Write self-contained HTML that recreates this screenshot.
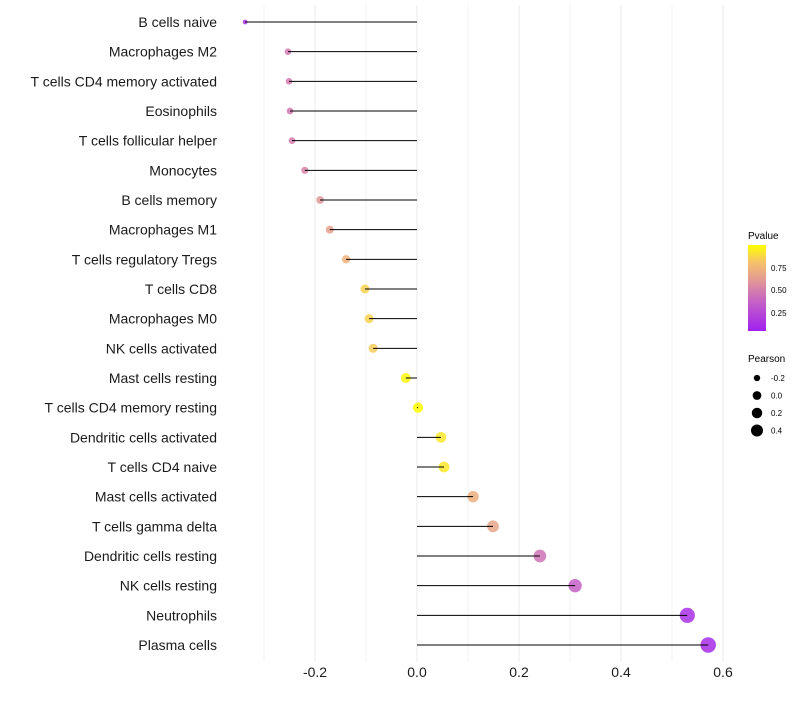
<!DOCTYPE html>
<html><head><meta charset="utf-8"><style>
body{margin:0;background:#fff;}
svg text{font-family:"Liberation Sans",sans-serif;}
</style></head><body>
<svg id="chart" width="800" height="700" xmlns="http://www.w3.org/2000/svg">
<rect width="800" height="700" fill="#fff"/>
<g id="grid"></g><g id="points"></g><g id="stems"></g><g id="ylabels"></g><g id="xticks"></g>
<g id="legend">
<defs><linearGradient id="pg" x1="0" y1="1" x2="0" y2="0">
<stop offset="0" stop-color="#A020F0"/><stop offset="0.35" stop-color="#C663C4"/><stop offset="0.6" stop-color="#E39A93"/><stop offset="0.8" stop-color="#F6C26A"/><stop offset="1" stop-color="#FFFF00"/></linearGradient></defs>
<text x="748" y="239" font-size="10">Pvalue</text>
<rect x="748" y="245" width="18" height="86" fill="url(#pg)"/>
<g font-size="8">
<text x="771" y="271">0.75</text><text x="771" y="293">0.50</text><text x="771" y="316">0.25</text>
</g>
<text x="748" y="362" font-size="10">Pearson</text>
<g id="sizeLegend"></g>
</g>
</svg>
<script>
const cells=["B cells naive","Macrophages M2","T cells CD4 memory activated","Eosinophils","T cells follicular helper","Monocytes","B cells memory","Macrophages M1","T cells regulatory  Tregs ","T cells CD8","Macrophages M0","NK cells activated","Mast cells resting","T cells CD4 memory resting","Dendritic cells activated","T cells CD4 naive","Mast cells activated","T cells gamma delta","Dendritic cells resting","NK cells resting","Neutrophils","Plasma cells"];
const pearson=[-0.337,-0.253,-0.251,-0.249,-0.245,-0.22,-0.19,-0.171,-0.139,-0.102,-0.094,-0.086,-0.022,0.002,0.047,0.053,0.11,0.149,0.241,0.31,0.53,0.571];
const pvalue=[0.1,0.45,0.45,0.45,0.46,0.5,0.58,0.63,0.72,0.85,0.85,0.83,0.97,1.0,0.92,0.92,0.7,0.65,0.42,0.33,0.08,0.06];
const xTicks=[-0.2,0,0.2,0.4,0.6];
const xTickLabels=["-0.2","0.0","0.2","0.4","0.6"];
const sizeLegendVals=[-0.2,0,0.2,0.4];
const sizeLegendLabels=["-0.2","0.0","0.2","0.4"];
const NS="http://www.w3.org/2000/svg";
const x=v=>417+v*510;
const y=i=>22+i*(623/(cells.length-1));
const r=v=>Math.sqrt(Math.max(2,26+60*v));
const stops=[[0,[160,32,240]],[0.35,[198,99,196]],[0.6,[227,154,147]],[0.8,[246,194,106]],[1,[255,255,0]]];
function col(p){p=Math.max(0,Math.min(1,p));for(let k=1;k<stops.length;k++){if(p<=stops[k][0]){const a=stops[k-1],b=stops[k],t=(p-a[0])/(b[0]-a[0]);const c=a[1].map((v,j)=>Math.round(v+(b[1][j]-v)*t));return`rgb(${c})`;}}return"rgb(255,255,0)";}
function mk(tag,at,parent){const e=document.createElementNS(NS,tag);for(const k in at)e.setAttribute(k,at[k]);parent.appendChild(e);return e;}
const grid=document.getElementById('grid');
for(let k=-3;k<=6;k++){const v=k/10;const g=mk('line',{x1:x(v),x2:x(v),y1:5,y2:662,stroke:'#ebebeb','stroke-width':k%2===0?1:0.6},grid);

}
const pts=document.getElementById('points'),stems=document.getElementById('stems');
cells.forEach((c,i)=>{
const d=mk('circle',{cx:x(pearson[i]),cy:y(i),r:r(pearson[i]),fill:col(pvalue[i]),'fill-opacity':0.85},pts);


const l=mk('line',{x1:x(0),x2:x(pearson[i]),y1:y(i),y2:y(i),stroke:'#000','stroke-width':1},stems);


const t=mk('text',{x:217,y:y(i)+5,'font-size':14,'text-anchor':'end',fill:'#1a1a1a'},document.getElementById('ylabels'));
t.textContent=c;


});
xTicks.forEach((v,i)=>{const t=mk('text',{x:x(v),y:677,'font-size':14,'text-anchor':'middle',fill:'#1a1a1a'},document.getElementById('xticks'));
t.textContent=xTickLabels[i];

});
const sl=document.getElementById('sizeLegend');
sizeLegendVals.forEach((v,i)=>{const cy=378+i*17.5;
const c=mk('circle',{cx:757,cy:cy,r:r(v)*0.85,fill:'#000'},sl);


const t=mk('text',{x:771,y:cy+3,'font-size':8},sl);t.textContent=sizeLegendLabels[i];

});
</script>
</body></html>
